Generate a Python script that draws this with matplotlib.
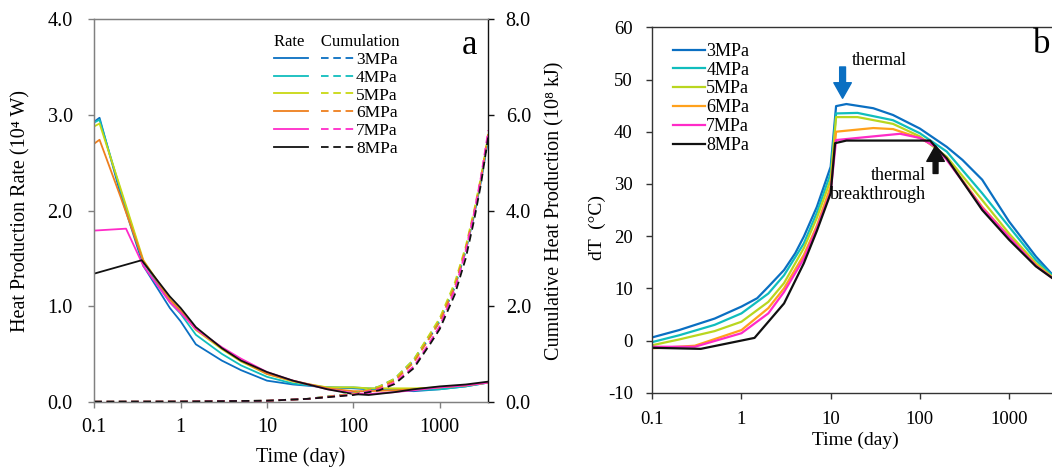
import matplotlib
matplotlib.use("Agg")
import matplotlib.pyplot as plt

plt.rcParams['font.family'] = ['Liberation Serif', 'DejaVu Serif']
plt.rcParams['axes.unicode_minus'] = False

labels = ['3MPa', '4MPa', '5MPa', '6MPa', '7MPa', '8MPa']
colors_a = ['#0A6FC2', '#10BDBD', '#C8D813', '#EE7F1E', '#FF2BC8', '#111111']
colors_b = ['#0A6FC2', '#10BDBD', '#B9D61F', '#FFA11C', '#FF2BC8', '#111111']

# ---- Panel a: heat production rate (10^4 W) ----
t_rate_3 = [0.1, 0.115, 0.2, 0.37, 0.75, 1, 1.5, 3, 5, 10, 20, 50, 100, 150, 300, 500, 1000, 2000, 3650]
rate_3 = [2.93, 2.97, 2.18, 1.42, 0.98, 0.84, 0.60, 0.43, 0.33, 0.22, 0.18, 0.15, 0.14, 0.13, 0.12, 0.11, 0.13, 0.16, 0.20]
t_rate_4 = t_rate_3
rate_4 = [2.92, 2.95, 2.22, 1.46, 1.04, 0.92, 0.70, 0.50, 0.38, 0.26, 0.19, 0.15, 0.15, 0.14, 0.13, 0.12, 0.13, 0.16, 0.20]
t_rate_5 = t_rate_3
rate_5 = [2.88, 2.91, 2.24, 1.48, 1.07, 0.95, 0.75, 0.55, 0.42, 0.29, 0.21, 0.15, 0.15, 0.14, 0.14, 0.14, 0.15, 0.17, 0.20]
t_rate_6 = t_rate_3
rate_6 = [2.70, 2.74, 2.15, 1.47, 1.07, 0.95, 0.76, 0.56, 0.43, 0.29, 0.22, 0.14, 0.11, 0.11, 0.12, 0.13, 0.15, 0.17, 0.20]
t_rate_7 = [0.1, 0.233, 0.37, 0.75, 1, 1.5, 3, 5, 10, 20, 50, 100, 150, 300, 500, 1000, 2000, 3650]
rate_7 = [1.79, 1.81, 1.42, 1.04, 0.93, 0.76, 0.57, 0.45, 0.31, 0.22, 0.13, 0.09, 0.08, 0.10, 0.12, 0.15, 0.17, 0.20]
t_rate_8 = [0.1, 0.354, 0.75, 1, 1.5, 3, 5, 10, 20, 50, 100, 150, 300, 500, 1000, 2000, 3650]
rate_8 = [1.34, 1.48, 1.10, 0.98, 0.78, 0.56, 0.43, 0.31, 0.22, 0.13, 0.08, 0.07, 0.10, 0.13, 0.16, 0.18, 0.21]

# ---- Panel a: cumulative heat production (10^8 kJ) ----
t_cum = [0.1, 1, 10, 30, 100, 200, 300, 500, 770, 1000, 1500, 2000, 2500, 3000, 3650]
cum_3 = [0, 0.003, 0.02, 0.06, 0.17, 0.31, 0.47, 0.85, 1.35, 1.68, 2.40, 3.15, 3.90, 4.60, 5.50]
cum_4 = [0, 0.003, 0.02, 0.06, 0.17, 0.32, 0.48, 0.88, 1.40, 1.72, 2.45, 3.20, 3.95, 4.65, 5.55]
cum_5 = [0, 0.003, 0.02, 0.06, 0.17, 0.32, 0.48, 0.88, 1.42, 1.75, 2.50, 3.25, 4.00, 4.70, 5.60]
cum_6 = [0, 0.003, 0.02, 0.06, 0.16, 0.29, 0.44, 0.82, 1.35, 1.68, 2.42, 3.20, 3.95, 4.65, 5.60]
cum_7 = [0, 0.003, 0.02, 0.06, 0.15, 0.26, 0.40, 0.74, 1.25, 1.58, 2.35, 3.15, 3.95, 4.70, 5.68]
cum_8 = [0, 0.003, 0.02, 0.06, 0.14, 0.24, 0.37, 0.70, 1.20, 1.52, 2.25, 3.00, 3.80, 4.55, 5.55]

# ---- Panel b: dT (°C) ----
t_dT_3 = [0.1, 0.2, 0.5, 1, 1.5, 2, 3, 4, 5, 7, 10, 11.5, 15, 30, 50, 100, 200, 300, 500, 700, 1000, 2000, 3650]
dT_3 = [0.6, 2.0, 4.2, 6.5, 8.1, 10.3, 13.5, 16.7, 19.9, 25.6, 33.3, 44.9, 45.3, 44.5, 43.2, 40.6, 37.1, 34.6, 30.8, 26.9, 22.8, 16.1, 11.2]
t_dT_4 = [0.1, 0.2, 0.5, 1, 2, 3, 5, 7, 10, 11.5, 20, 50, 100, 200, 500, 1000, 2000, 3650]
dT_4 = [-0.3, 1.0, 3.0, 5.2, 9.0, 12.5, 18.6, 24.5, 32.0, 43.5, 43.6, 42.2, 39.7, 36.2, 28.2, 21.8, 15.4, 11.2]
t_dT_5 = t_dT_4
dT_5 = [-0.9, 0.2, 1.8, 3.6, 7.4, 11.0, 17.7, 23.5, 30.8, 42.8, 42.8, 41.5, 39.1, 35.2, 26.9, 20.5, 14.8, 11.1]
t_dT_6 = [0.1, 0.3, 1, 2, 3, 5, 7, 10, 11.5, 30, 50, 100, 150, 200, 500, 1000, 2000, 3650]
dT_6 = [-1.5, -1.0, 2.0, 6.2, 10.0, 16.4, 22.0, 29.5, 40.0, 40.7, 40.5, 38.8, 37.1, 34.8, 25.6, 19.9, 14.5, 11.0]
t_dT_7 = [0.1, 0.3, 1, 2, 3, 5, 7, 10, 11.5, 30, 60, 100, 150, 200, 500, 1000, 2000, 3650]
dT_7 = [-1.2, -1.2, 1.4, 5.2, 9.3, 15.7, 21.5, 28.5, 38.4, 39.1, 39.6, 38.8, 37.1, 34.6, 25.4, 19.8, 14.3, 11.0]
t_dT_8 = [0.1, 0.35, 1.4, 3, 5, 7, 10, 11.2, 15, 50, 130, 150, 200, 500, 1000, 2000, 3650]
dT_8 = [-1.4, -1.6, 0.5, 7.1, 14.8, 21.0, 28.2, 37.8, 38.3, 38.3, 38.3, 37.1, 34.9, 25.0, 19.3, 14.2, 11.0]

xticks = [0.1, 1, 10, 100, 1000]
xtick_labels = ['0.1', '1', '10', '100', '1000']
rate_ticks = [0, 1, 2, 3, 4]
cum_ticks = [0, 2, 4, 6, 8]
dT_ticks = [-10, 0, 10, 20, 30, 40, 50, 60]

W, H = 1052, 467
fig = plt.figure(figsize=(W / 100, H / 100), dpi=100)

# ------------------ Panel a ------------------
axa = fig.add_axes([94.3 / W, 1 - 401.7 / H, 394 / W, 382.4 / H])
axc = axa.twinx()

rate_t = [t_rate_3, t_rate_4, t_rate_5, t_rate_6, t_rate_7, t_rate_8]
rate_v = [rate_3, rate_4, rate_5, rate_6, rate_7, rate_8]
cum_v = [cum_3, cum_4, cum_5, cum_6, cum_7, cum_8]

solid_h, dash_h = [], []
for i in range(6):
    l1, = axa.plot(rate_t[i], rate_v[i], color=colors_a[i], lw=1.3)
    solid_h.append(l1)
for i in range(6):
    l2, = axc.plot(t_cum, cum_v[i], color=colors_a[i], lw=1.3, dashes=(4.2, 2.6))
    dash_h.append(l2)

axa.set_xscale('log')
axa.set_xlim(0.1, 3650)
axa.set_ylim(0, 4)
axc.set_ylim(0, 8)
axa.set_xticks(xticks)
axa.set_xticklabels(xtick_labels)
axa.minorticks_off()
axc.minorticks_off()
axa.set_yticks(rate_ticks)
axa.set_yticklabels([f'{v:.1f}' for v in rate_ticks])
axc.set_yticks(cum_ticks)
axc.set_yticklabels([f'{v:.1f}' for v in cum_ticks])

gray = '#808080'
for s in ['left', 'top', 'bottom']:
    axa.spines[s].set_color(gray)
    axc.spines[s].set_color(gray)
axc.spines['right'].set_color('#111111')
axa.spines['right'].set_visible(False)
for sp in axa.spines.values():
    sp.set_linewidth(1.0)
axc.spines['right'].set_linewidth(1.0)

axa.tick_params(axis='x', direction='out', length=4.5, width=1, color=gray, labelsize=14.5, pad=7)
axa.tick_params(axis='y', direction='out', length=4.5, width=1, color=gray, labelsize=14.5, pad=11)
axc.tick_params(axis='y', direction='out', length=4.5, width=1, color='#111111', labelsize=14.5, pad=8)

axa.set_xlabel('Time (day)', fontsize=14.5, va='center')
axa.xaxis.set_label_coords((301 - 94.3) / 394, (401.7 - 457) / 382.4)
axa.set_ylabel('Heat Production Rate (10⁴ W)', fontsize=14.5, va='center')
axa.yaxis.set_label_coords((21 - 94.3) / 394, 0.5)
axc.set_ylabel('Cumulative Heat Production (10⁸ kJ)', fontsize=14.5, va='center', rotation=90)
axc.yaxis.set_label_coords((555 - 94.3) / 394, 0.5)

leg = axa.legend(solid_h + dash_h, [''] * 6 + labels, ncol=2, loc='upper left',
                 bbox_to_anchor=((264 - 94.3) / 394, 1 - (24 - 19.3) / 382.4),
                 frameon=False, fontsize=12.5, handlelength=1.95, handletextpad=0.05,
                 columnspacing=0.7, labelspacing=0.09, borderpad=0.1,
                 title='Rate    Cumulation', title_fontsize=12, alignment='left')
axa.text((470 - 94.3) / 394, 1 - (45 - 19.3) / 382.4, 'a', transform=axa.transAxes,
         fontsize=25, ha='center', va='center')

# ------------------ Panel b ------------------
axb = fig.add_axes([652.3 / W, 1 - 392.7 / H, 406.9 / W, 365.4 / H])
dT_t = [t_dT_3, t_dT_4, t_dT_5, t_dT_6, t_dT_7, t_dT_8]
dT_v = [dT_3, dT_4, dT_5, dT_6, dT_7, dT_8]
for i in range(6):
    axb.plot(dT_t[i], dT_v[i], color=colors_b[i], lw=1.6, label=labels[i])
axb.set_xscale('log')
axb.set_xlim(0.1, 3650)
axb.set_ylim(-10, 60)
axb.set_xticks(xticks)
axb.set_xticklabels(xtick_labels)
axb.minorticks_off()
axb.set_yticks(dT_ticks)
dk = '#333333'
for sp in axb.spines.values():
    sp.set_color(dk)
    sp.set_linewidth(1.0)
axb.tick_params(axis='x', direction='out', length=4.5, width=1, color=dk, labelsize=13.5, pad=9)
axb.tick_params(axis='y', direction='out', length=4.5, width=1, color=dk, labelsize=13.5, pad=9.5)
axb.set_xlabel('Time (day)', fontsize=14, va='center')
axb.xaxis.set_label_coords(0.5, (392.7 - 440) / 365.4)
axb.set_ylabel('dT  (°C)', fontsize=14, va='center')
axb.yaxis.set_label_coords((597 - 652.3) / 406.9, 1 - (227 - 27.3) / 365.4)

axb.legend(loc='upper left', bbox_to_anchor=((662 - 652.3) / 406.9, 1 - (32 - 27.3) / 365.4),
           frameon=False, fontsize=13, handlelength=1.8, handletextpad=0.05,
           labelspacing=0.1, borderpad=0.1)

axb.annotate('', xy=(13.6, 46.4), xytext=(13.6, 52.4),
             arrowprops=dict(arrowstyle='simple,head_width=0.9,head_length=0.8,tail_width=0.3',
                             color='#0A6FC2', mutation_scale=14, shrinkA=0, shrinkB=0))
axb.text(34.8, 53.7, 'thermal', fontsize=13, ha='center', va='center')
axb.annotate('', xy=(150, 37.3), xytext=(150, 32.0),
             arrowprops=dict(arrowstyle='simple,head_width=0.9,head_length=0.8,tail_width=0.25',
                             color='#111111', mutation_scale=14, shrinkA=0, shrinkB=0))
axb.text(117, 29.8, 'thermal\nbreakthrough', fontsize=13, ha='right', va='center',
         multialignment='right', linespacing=1.15)

fig.text(1033 / W, 1 - 53 / H, 'b', fontsize=25, ha='left', va='baseline')

fig.savefig('out.png', dpi=100)
